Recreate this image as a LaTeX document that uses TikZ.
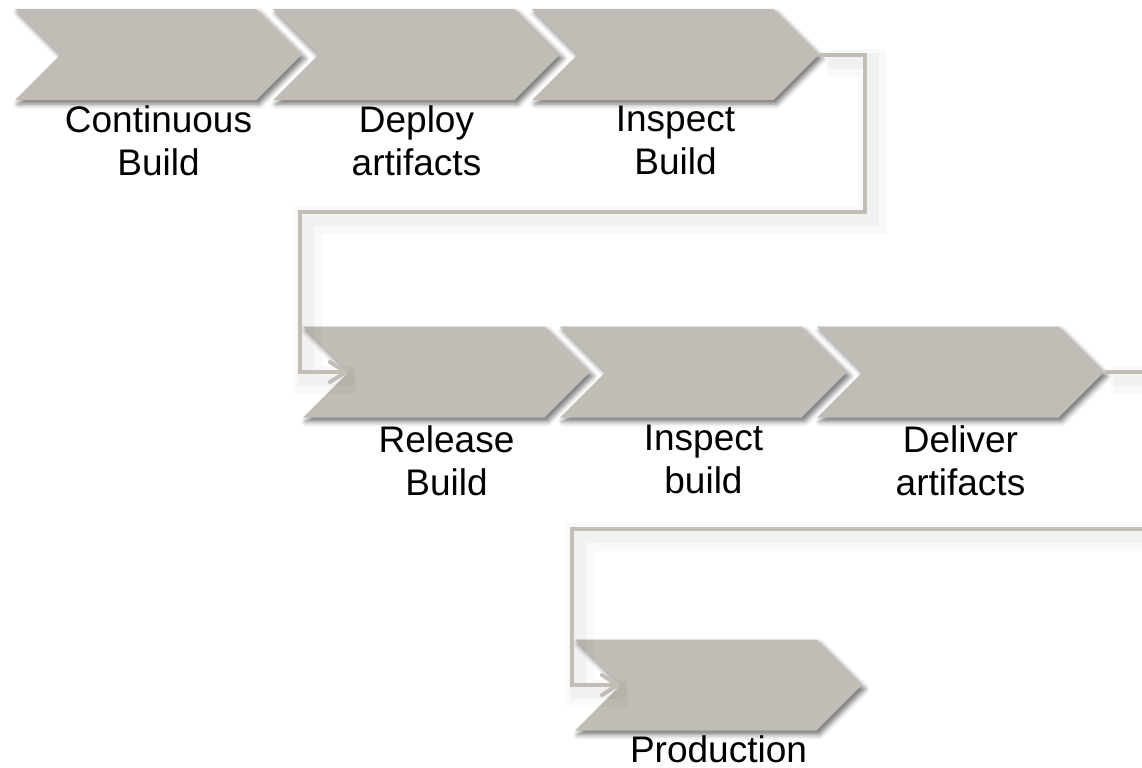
\documentclass[tikz,border=0pt]{standalone}
\usepackage{fontspec}
\setmainfont{Liberation Sans}
\usetikzlibrary{shapes.symbols,arrows.meta,shadows.blur,calc}
\definecolor{stagegray}{RGB}{193,188,182}
\definecolor{linkgray}{RGB}{194,189,183}
\tikzset{every picture/.style={>={Straight Barb[length=8pt,width=10pt,round]}},
  stage/.style={signal, signal to=east, signal from=west, signal pointer angle=90,
    fill=stagegray, minimum width=143.5pt, minimum height=45.5pt, inner sep=0pt,
    blur shadow={shadow xshift=1.5pt, shadow yshift=-2pt, shadow blur radius=2.5pt, shadow opacity=55}},
  stagetext/.style={anchor=north, align=center, inner sep=0pt, font=\fontsize{18.5}{21.5}\selectfont},
  link/.style={draw=linkgray, line width=2pt, ->,
    preaction={draw=black, -, opacity=0.025, line width=14pt, transform canvas={shift={(4pt,-4pt)}}},
    preaction={draw=black, -, opacity=0.03, line width=8pt, transform canvas={shift={(3pt,-3pt)}}}}}
\begin{document}
\begin{tikzpicture}[x=0.5pt,y=-0.5pt]
  \useasboundingbox (0,0) rectangle (1142,767);
  % first row
  \node (cb) [stage] at (158.5,54.5) {};
  \node (da) [stage] at (416.5,54.5) {};
  \node (ib) [stage] at (675.5,54.5) {};
  % second row
  \node (rb) [stage] at (446.5,372) {};
  \node (ibr) [stage] at (703.5,372) {};
  \node (dl) [stage] at (960.5,372) {};
  % last stage
  \node (pr) [stage] at (718.5,685) {};
  \node (cbt) [stagetext] at ($(cb.south)+(0,5)$) {Continuous\\Build};
  \node (dat) [stagetext] at ($(da.south)+(0,5)$) {Deploy\\artifacts};
  \node (ibt) [stagetext] at ($(ib.south)+(0,5)$) {Inspect\\Build};
  \node (rbt) [stagetext] at ($(rb.south)+(0,7)$) {Release\\Build};
  \node (ibrt) [stagetext] at ($(ibr.south)+(0,7)$) {Inspect\\build};
  \node (dlt) [stagetext] at ($(dl.south)+(0,7)$) {Deliver\\artifacts};
  \node (prt) [stagetext] at ($(pr.south)+(0,4)$) {Production};
  \draw [link] (ib.east) -- (865,54.5) -- (865,212) -- (300,212) |- (rb.west);
  \draw [link] (dl.east) -- (1170,372) -- (1170,529) -- (572,529) |- (pr.west);
\end{tikzpicture}
\end{document}
